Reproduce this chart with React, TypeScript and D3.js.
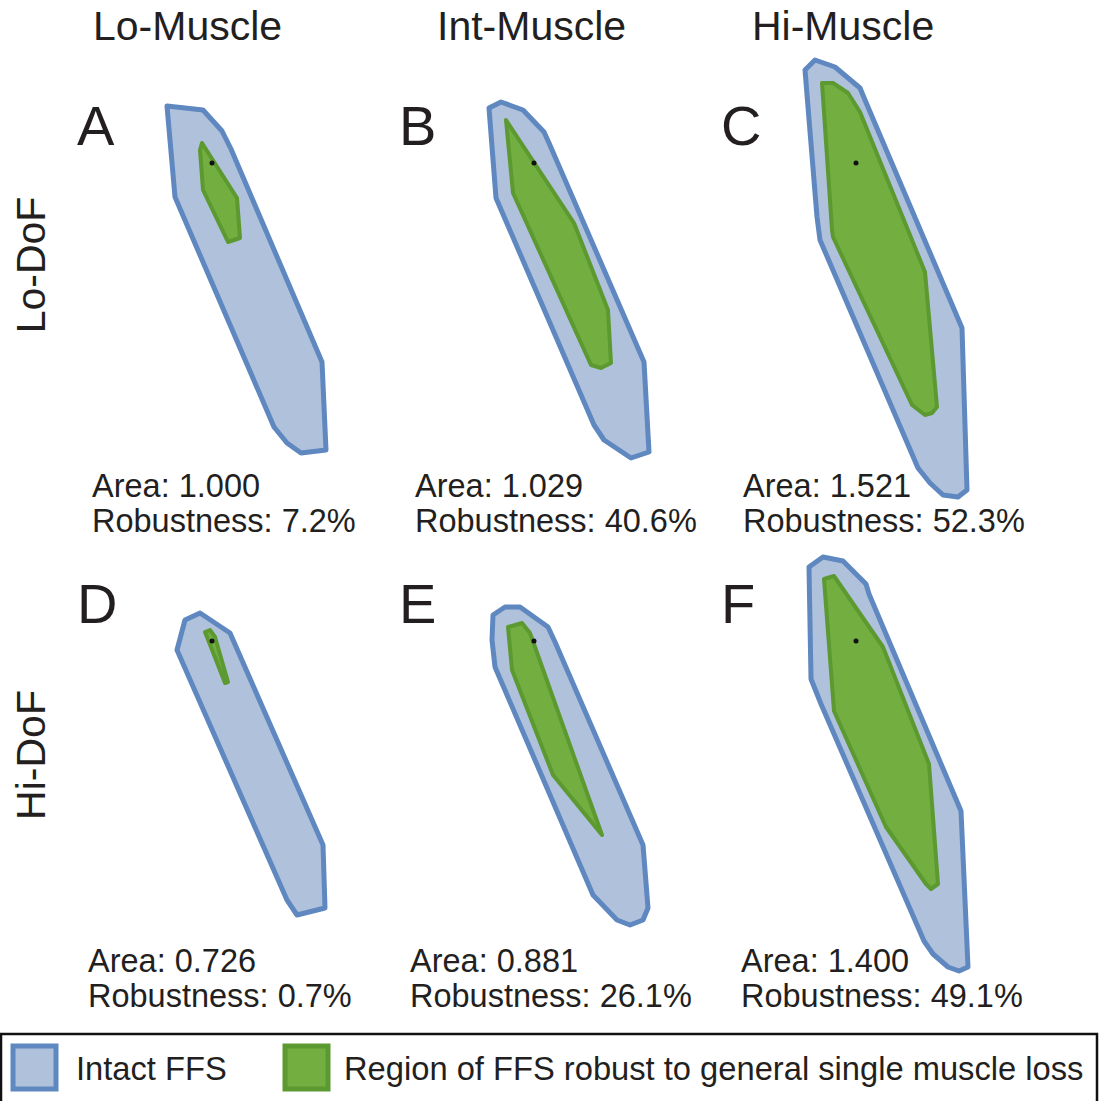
import React from "react";
import * as d3 from "d3";

// ---------- data ----------
const columnLabels = ["Lo-Muscle", "Int-Muscle", "Hi-Muscle"];
const rowLabels = ["Lo-DoF", "Hi-DoF"];
const panelLetters = ["A", "B", "C", "D", "E", "F"];
const areaValues = ["1.000", "1.029", "1.521", "0.726", "0.881", "1.400"];
const robustnessValues = ["7.2", "40.6", "52.3", "0.7", "26.1", "49.1"];
const legendLabels = ["Intact FFS", "Region of FFS robust to general single muscle loss"];

// polygon vertices, relative to the nominal point (black dot), y upward
const intactA = [[-0.45,0.57],[-0.09,0.53],[0.10,0.32],[0.19,0.14],[1.10,-1.99],[1.14,-2.87],[0.89,-2.90],[0.75,-2.80],[0.62,-2.64],[-0.37,-0.34]];
const robustA = [[-0.10,0.20],[0.25,-0.35],[0.28,-0.75],[0.16,-0.79],[-0.09,-0.27],[-0.12,0.13]];
const intactB = [[-0.45,0.55],[-0.33,0.61],[-0.11,0.53],[0.10,0.31],[0.15,0.20],[1.10,-1.99],[1.15,-2.89],[0.97,-2.95],[0.70,-2.77],[0.60,-2.62],[-0.38,-0.35]];
const robustB = [[-0.28,0.43],[0.40,-0.60],[0.74,-1.47],[0.77,-2.00],[0.67,-2.05],[0.57,-2.02],[-0.21,-0.30]];
const intactC = [[-0.51,0.93],[-0.41,1.03],[-0.21,0.96],[0.04,0.75],[0.09,0.63],[1.06,-1.65],[1.11,-3.27],[1.02,-3.34],[0.87,-3.32],[0.74,-3.20],[0.62,-3.05],[-0.36,-0.77],[-0.39,-0.54]];
const robustC = [[-0.34,0.80],[-0.23,0.80],[-0.08,0.70],[0.04,0.51],[0.69,-1.09],[0.81,-2.44],[0.76,-2.50],[0.69,-2.52],[0.56,-2.42],[-0.23,-0.74],[-0.24,-0.67]];
const intactD = [[-0.12,0.28],[-0.27,0.21],[-0.35,-0.09],[0.75,-2.59],[0.85,-2.74],[1.13,-2.67],[1.11,-2.04],[0.18,0.08],[0.06,0.16]];
const robustD = [[-0.07,0.09],[-0.02,0.11],[0.03,0.04],[0.16,-0.41],[0.13,-0.42],[-0.05,0.04]];
const intactE = [[-0.41,0.26],[-0.29,0.34],[-0.14,0.34],[0.14,0.14],[0.21,-0.01],[1.09,-2.04],[1.14,-2.67],[1.09,-2.79],[0.96,-2.84],[0.83,-2.79],[0.59,-2.54],[-0.39,-0.26],[-0.42,0.01]];
const robustE = [[-0.26,0.14],[-0.12,0.18],[-0.04,0.08],[0.68,-1.94],[0.19,-1.34],[-0.22,-0.29]];
const intactF = [[-0.47,0.74],[-0.33,0.84],[-0.13,0.80],[0.10,0.57],[0.13,0.47],[1.05,-1.70],[1.12,-3.26],[1.03,-3.30],[0.92,-3.26],[0.77,-3.13],[0.68,-3.00],[-0.35,-0.63],[-0.45,-0.38]];
const robustF = [[-0.32,0.62],[-0.22,0.65],[0.27,-0.06],[0.73,-1.23],[0.82,-2.43],[0.75,-2.48],[0.70,-2.43],[0.30,-1.86],[-0.22,-0.70]];

const intactPolys = [intactA, intactB, intactC, intactD, intactE, intactF];
const robustPolys = [robustA, robustB, robustC, robustD, robustE, robustF];

// ---------- layout / style ----------
const W = 1099;
const H = 1101;
const FONT = "'Liberation Sans', Arial, Helvetica, sans-serif";
const TEXT = "#231f20";
const BLUE_FILL = "#b0c1dc";
const BLUE_STROKE = "#5f88c0";
const GREEN_FILL = "#72ae40";
const GREEN_STROKE = "#5c9a31";
const headerX = [93, 437, 752];
const textOffsets = [-120, -119, -113, -124, -124, -115];

const colScale = d3.scaleLinear().domain([0, 2]).range([212, 856]);
const rowScale = d3.scaleLinear().domain([0, 1]).range([163, 641]);

function Panel({ i }: { i: number }) {
  const col = i % 3;
  const row = Math.floor(i / 3);
  const cx = colScale(col);
  const cy = rowScale(row);
  const x = d3.scaleLinear().domain([0, 1]).range([cx, cx + 100]);
  const y = d3.scaleLinear().domain([0, 1]).range([cy, cy - 100]);
  const line = d3
    .line<number[]>()
    .x((d) => x(d[0]))
    .y((d) => y(d[1]))
    .curve(d3.curveLinearClosed);
  const tx = cx + textOffsets[i];
  const ty = row === 0 ? 497 : 972;
  return (
    <g>
      <path d={line(intactPolys[i]) || ""} fill={BLUE_FILL} stroke={BLUE_STROKE} strokeWidth={5} strokeLinejoin="round" />
      <path d={line(robustPolys[i]) || ""} fill={GREEN_FILL} stroke={GREEN_STROKE} strokeWidth={4} strokeLinejoin="round" />
      <circle cx={x(0)} cy={y(0)} r={2.5} fill="#111" />
      <text x={cx - 135} y={cy - 18} fontSize={56} fill={TEXT}>{panelLetters[i]}</text>
      <text x={tx} y={ty} fontSize={32.5} fill={TEXT}>{`Area: ${areaValues[i]}`}</text>
      <text x={tx} y={ty + 35} fontSize={32.5} fill={TEXT}>{`Robustness: ${robustnessValues[i]}%`}</text>
    </g>
  );
}

export default function App() {
  return (
    <svg
      width={W}
      height={H}
      style={{ position: "absolute", left: 0, top: 0, background: "#fff" }}
      fontFamily={FONT}
    >
      <rect x={0} y={0} width={W} height={H} fill="#fff" />
      {columnLabels.map((c, j) => (
        <text key={c} x={headerX[j]} y={40} fontSize={41} fill={TEXT}>{c}</text>
      ))}
      {rowLabels.map((r, k) => (
        <text
          key={r}
          transform={`translate(45,${k === 0 ? 265 : 755}) rotate(-90)`}
          textAnchor="middle"
          fontSize={41}
          fill={TEXT}
        >
          {r}
        </text>
      ))}
      {panelLetters.map((_, i) => (
        <Panel key={i} i={i} />
      ))}
      <rect x={1} y={1034} width={W - 3} height={90} fill="none" stroke="#111" strokeWidth={2.5} />
      <rect x={13} y={1046} width={43} height={43} fill={BLUE_FILL} stroke={BLUE_STROKE} strokeWidth={5} />
      <text x={76} y={1080} fontSize={32.7} fill={TEXT}>{legendLabels[0]}</text>
      <rect x={285} y={1046} width={43} height={43} fill={GREEN_FILL} stroke={GREEN_STROKE} strokeWidth={5} />
      <text x={344} y={1080} fontSize={32.7} fill={TEXT}>{legendLabels[1]}</text>
    </svg>
  );
}
